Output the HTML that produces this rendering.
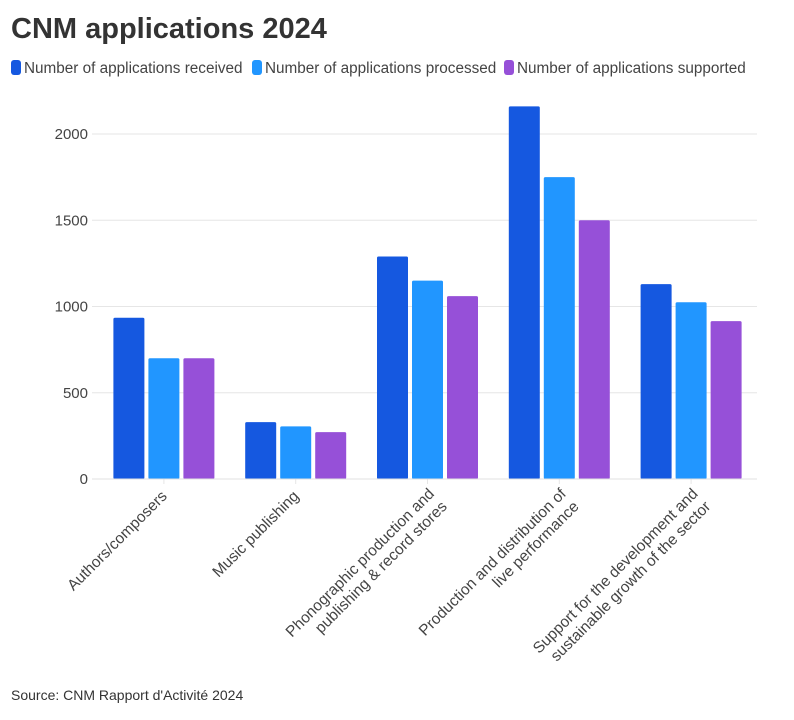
<!DOCTYPE html>
<html><head><meta charset="utf-8">
<style>
body{margin:0;background:#fff;font-family:"Liberation Sans",sans-serif;}
svg text{font-family:"Liberation Sans",sans-serif;}
</style></head>
<body>
<svg id="chart" width="794" height="715" viewBox="0 0 794 715" xmlns="http://www.w3.org/2000/svg">
<text x="11" y="38" font-size="29" font-weight="bold" fill="#333">CNM applications 2024</text>
<g font-size="15.3" fill="#444">
<rect x="11" y="60" width="10" height="15" rx="3" fill="#1558E0"/>
<text x="24" y="73">Number of applications received</text>
<rect x="252" y="60" width="10" height="15" rx="3" fill="#2196FF"/>
<text x="265" y="73">Number of applications processed</text>
<rect x="504" y="60" width="10" height="15" rx="3" fill="#9650D8"/>
<text x="517" y="73">Number of applications supported</text>
</g>
<g id="plot"></g>
<text x="11" y="700" font-size="14" fill="#333">Source: CNM Rapport d'Activité 2024</text>
</svg>
<script>
const categories = [["Authors/composers"],["Music publishing"],["Phonographic production and","publishing & record stores"],["Production and distribution of","live performance"],["Support for the development and","sustainable growth of the sector"]];
const received = [935, 330, 1290, 2160, 1130];
const processed = [700, 305, 1150, 1750, 1025];
const supported = [700, 272, 1060, 1500, 915];
const yTicks = [0, 500, 1000, 1500, 2000];
const seriesNames = ["received","processed","supported"];
const colors = ["#1558E0","#2196FF","#9650D8"];

const NS = "http://www.w3.org/2000/svg";
const plot = document.getElementById('plot');
const x0 = 98, x1 = 757, y0 = 479, pxPerUnit = 345/2000;
const y = v => y0 - v * pxPerUnit;
const band = (x1 - x0) / categories.length;
const xc = i => x0 + band * (i + 0.5);
function mk(tag, attrs){const e=document.createElementNS(NS,tag);for(const k in attrs)e.setAttribute(k,attrs[k]);plot.appendChild(e);return e;}

yTicks.forEach(t=>{
  const g = mk('line',{x1:x0-6,x2:x1,y1:y(t),y2:y(t),stroke:'#e6e6e6','stroke-width':1});
  
  
  const l = mk('text',{x:x0-10,y:y(t)+5,'text-anchor':'end','font-size':15,fill:'#444'});
  l.textContent = t;
  
  
});

const series = [received, processed, supported];
const bw = 31, gap = 4;
categories.forEach((c,i)=>{
  series.forEach((s,j)=>{
    const bx = xc(i) + (j-1)*(bw+gap) - bw/2;
    const r = mk('rect',{x:bx,y:y(s[i]),width:bw,height:y0-y(s[i]),fill:colors[j],rx:1.5});
    
    
  });
  const tk = mk('line',{x1:xc(i),x2:xc(i),y1:y0,y2:y0+5,stroke:'#e6e6e6'});
  
  
  const n = c.length;
  const tx = n>1 ? xc(i)+14 : xc(i)+4;
  const ty = n>1 ? y0+22 : y0+18;
  const t = mk('text',{transform:`translate(${tx},${ty}) rotate(-45)`,'text-anchor':'end','font-size':15.5,fill:'#444'});
  
  
  c.forEach((line,k)=>{
    const ts=document.createElementNS(NS,'tspan');
    ts.setAttribute('x',0);
    ts.setAttribute('y', n>1 ? (k-1)*18+9 : 0);
    ts.textContent=line;
    t.appendChild(ts);
  });
});
const ax = mk('line',{x1:x0-6,x2:x1,y1:y0,y2:y0,stroke:'#e0e0e0'});


</script>
</body></html>
